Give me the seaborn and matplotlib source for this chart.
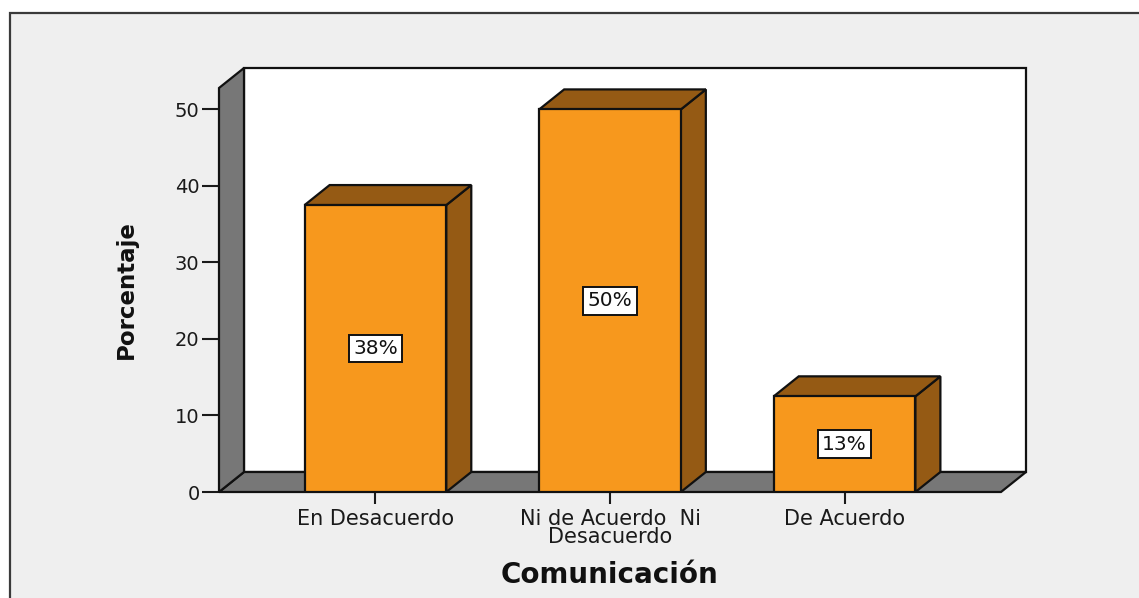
import matplotlib
matplotlib.use("Agg")
import matplotlib.pyplot as plt
from matplotlib.patches import Polygon, Rectangle
import seaborn as sns

# data
categories = ["En Desacuerdo", "Ni de Acuerdo  Ni\nDesacuerdo", "De Acuerdo"]
percentages = [37.5, 50.0, 12.5]
bar_labels = ["38%", "50%", "13%"]
y_ticks = [0, 10, 20, 30, 40, 50]

ORANGE = "#F7981D"
BROWN = "#955A14"
WALL = "#777777"
FRAME_BG = "#EFEFEF"

sns.set_style("ticks")
plt.rcParams["font.family"] = ["DejaVu Sans"]

fig = plt.figure(figsize=(11.39, 5.98), dpi=100)
fig.patch.set_facecolor("white")
fig.add_artist(Rectangle((10 / 1139, -0.05), 1.1, (598 - 13) / 598 + 0.05,
                         transform=fig.transFigure, facecolor=FRAME_BG,
                         edgecolor="#3a3a3a", linewidth=1.6, zorder=-10))

ax = fig.add_axes([219 / 1139, (598 - 492) / 598, 782 / 1139, 404 / 598])
ax.set_facecolor("none")

sns.barplot(x=categories, y=percentages, ax=ax, color=ORANGE, saturation=1,
            width=0.604, edgecolor="#111111", linewidth=1.6, zorder=3)

x0, x1 = -0.667, 2.667
ytop = 52.8
DX, DY = 0.1066, 2.615  # depth offset of the 3D effect
ax.set_xlim(x0, x1)
ax.set_ylim(0, ytop)

edge = dict(edgecolor="#111111", linewidth=1.6, clip_on=False)
# back wall, floor, left wall
ax.add_patch(Polygon([(x0 + DX, DY), (x1 + DX, DY), (x1 + DX, ytop + DY), (x0 + DX, ytop + DY)],
                     facecolor="white", zorder=1, **edge))
ax.add_patch(Polygon([(x0, 0), (x1, 0), (x1 + DX, DY), (x0 + DX, DY)],
                     facecolor=WALL, zorder=1.5, **edge))
ax.add_patch(Polygon([(x0, 0), (x0 + DX, DY), (x0 + DX, ytop + DY), (x0, ytop)],
                     facecolor=WALL, zorder=1.5, **edge))

# side and top faces of each bar, plus value label
for bar, lab in zip(list(ax.patches)[:len(percentages)], bar_labels):
    bx, bw, bh = bar.get_x(), bar.get_width(), bar.get_height()
    ax.add_patch(Polygon([(bx + bw, 0), (bx + bw + DX, DY), (bx + bw + DX, bh + DY), (bx + bw, bh)],
                         facecolor=BROWN, zorder=2.5, **edge))
    ax.add_patch(Polygon([(bx, bh), (bx + bw, bh), (bx + bw + DX, bh + DY), (bx + DX, bh + DY)],
                         facecolor=BROWN, zorder=2.5, **edge))
    ax.text(bx + bw / 2, bh / 2, lab, ha="center", va="center", fontsize=14.5, zorder=5,
            color="#111111",
            bbox=dict(boxstyle="square,pad=0.22", facecolor="white", edgecolor="#111111", linewidth=1.4))

for s in ax.spines.values():
    s.set_visible(False)

ax.set_yticks(y_ticks)
ax.tick_params(axis="y", length=12, width=1.5, pad=2, labelsize=14, colors="#1a1a1a")
ax.tick_params(axis="x", length=8.5, width=1.5, pad=3.5, labelsize=15, colors="#1a1a1a")
for t in ax.get_xticklabels():
    t.set_linespacing(0.92)

ax.set_ylabel("Porcentaje", fontsize=16.5, fontweight="bold", color="#111111")
ax.yaxis.set_label_coords(-0.104, 0.5)
ax.set_xlabel("Comunicación", fontsize=20, fontweight="bold", color="#111111")
ax.xaxis.set_label_coords(0.5, -0.172)

plt.savefig("out.png", dpi=100)
